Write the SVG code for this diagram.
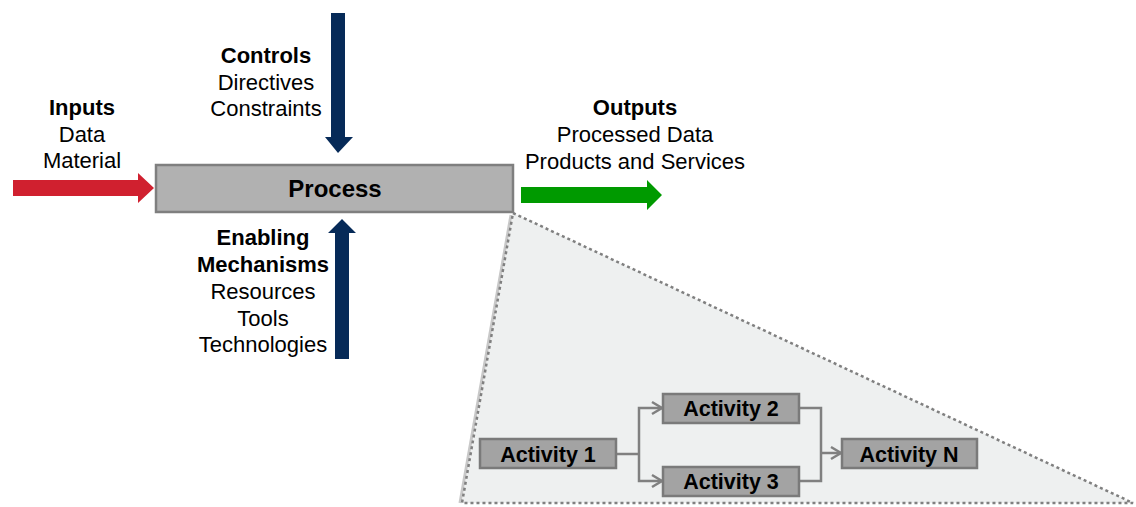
<svg xmlns="http://www.w3.org/2000/svg" width="1136" height="507" viewBox="0 0 1136 507">
<defs>
<style>
text{font-family:"Liberation Sans",Arial,sans-serif;fill:#000;text-anchor:middle;}
.lbl{font-size:22px;}
.b{font-weight:bold;}
.act rect{fill:#a3a3a3;stroke:#7a7a7a;stroke-width:2.5;}
.act text{font-size:21.5px;font-weight:bold;}
.conn{fill:none;stroke:#808080;stroke-width:2.5;}
</style>
<marker id="chev" markerUnits="userSpaceOnUse" markerWidth="14" markerHeight="16" refX="11" refY="7" orient="auto" viewBox="0 0 14 14">
<path d="M1,1 L11,7 L1,13" fill="none" stroke="#808080" stroke-width="2.5"/>
</marker>
</defs>
<rect width="1136" height="507" fill="#fff"/>

<g id="zoom-triangle">
<polygon points="513,213 1133,503 462,503" fill="#eef0f0"/>
<line x1="511" y1="215" x2="460" y2="503" stroke="#c8c8c8" stroke-width="3"/>
<polygon points="513,213 1133,503 462,503" fill="none" stroke="#808080" stroke-width="2.5" stroke-dasharray="3,3"/>
</g>

<g id="process">
<rect x="156" y="165" width="357" height="47" fill="#b1b1b1" stroke="#7f7f7f" stroke-width="2.5"/>
<text x="335" y="197" style="font-size:24px;font-weight:bold">Process</text>
</g>

<g id="inputs">
<polygon points="13,180 138,180 138,173 154,188 138,203 138,196 13,196" fill="#d0202f"/>
<text class="lbl b" x="82" y="115">Inputs</text>
<text class="lbl" x="82" y="142">Data</text>
<text class="lbl" x="82" y="168">Material</text>
</g>

<g id="controls">
<polygon points="331,13 345,13 345,137 353,137 338,153 325,137 331,137" fill="#062a58"/>
<text class="lbl b" x="266" y="63">Controls</text>
<text class="lbl" x="266" y="90">Directives</text>
<text class="lbl" x="266" y="116">Constraints</text>
</g>

<g id="enabling">
<polygon points="335,359 349,359 349,233 356,233 342,219 328,233 335,233" fill="#062a58"/>
<text class="lbl b" x="263" y="245">Enabling</text>
<text class="lbl b" x="263" y="272">Mechanisms</text>
<text class="lbl" x="263" y="299">Resources</text>
<text class="lbl" x="263" y="326">Tools</text>
<text class="lbl" x="263" y="352">Technologies</text>
</g>

<g id="outputs">
<polygon points="521,187 647,187 647,180 662,195 647,210 647,203 521,203" fill="#009a00"/>
<text class="lbl b" x="635" y="115">Outputs</text>
<text class="lbl" x="635" y="142">Processed Data</text>
<text class="lbl" x="635" y="169">Products and Services</text>
</g>

<g id="connectors">
<polyline class="conn" points="616,454 639,454"/>
<polyline class="conn" points="639,454 639,408 662,408" marker-end="url(#chev)"/>
<polyline class="conn" points="639,454 639,481 662,481" marker-end="url(#chev)"/>
<polyline class="conn" points="799,408 821,408 821,481 799,481"/>
<polyline class="conn" points="821,453 841,453" marker-end="url(#chev)"/>
</g>

<g id="activity-1" class="act">
<rect x="480" y="439" width="136" height="29"/>
<text x="548" y="462">Activity 1</text>
</g>
<g id="activity-2" class="act">
<rect x="663" y="394" width="136" height="29"/>
<text x="731" y="416">Activity 2</text>
</g>
<g id="activity-3" class="act">
<rect x="663" y="467" width="136" height="29"/>
<text x="731" y="489">Activity 3</text>
</g>
<g id="activity-n" class="act">
<rect x="842" y="439" width="135" height="29"/>
<text x="909" y="462">Activity N</text>
</g>
</svg>
